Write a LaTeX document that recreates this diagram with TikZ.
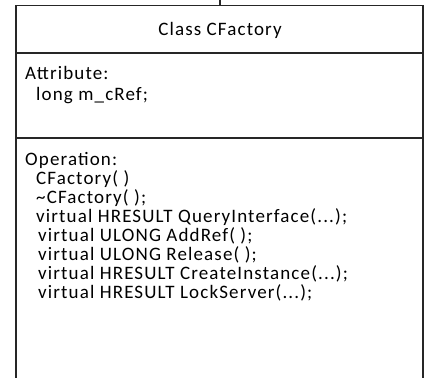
\documentclass[tikz,border=0pt]{standalone}
\usepackage{fontspec}
\setmainfont{Carlito}[LetterSpace=6]
\begin{document}
\begin{tikzpicture}[x=1pt,y=-1pt,
  frame/.style={draw=black!85,line width=1.6pt},
  txt/.style={inner sep=0pt,anchor=base west,font=\fontsize{19}{21}\selectfont},
  ttl/.style={inner sep=0pt,anchor=base,font=\fontsize{19}{21}\selectfont}]
\useasboundingbox (0,0) rectangle (427,377);
\coordinate (conntop) at (220,0);
\coordinate (tl) at (16,5.5);
\coordinate (tr) at (423,5.5);
\coordinate (bl) at (16,378);
\coordinate (br) at (423,378);
\coordinate (d1l) at (16,53);
\coordinate (d1r) at (423,53);
\coordinate (d2l) at (16,138);
\coordinate (d2r) at (423,138);
\coordinate (connbot) at (220,5.5);
\draw[frame] (bl) -- (tl) -- (tr) -- (br);
\draw[frame] (d1l) -- (d1r);
\draw[frame] (d2l) -- (d2r);
\draw[frame] (conntop) -- (connbot);
\node[ttl] (title) at (220,36) {Class CFactory};
\node[txt] (attr) at (25,80) {Attribute:};
\node[txt] (a1) at (36,100) {long m\_cRef;};
\node[txt] (op) at (25,165) {Operation:};
\node[txt] (o1) at (36,184) {CFactory( )};
\node[txt] (o2) at (36,203) {\string~CFactory( );};
\node[txt] (o3) at (36,222) {virtual HRESULT QueryInterface(...);};
\node[txt] (o4) at (38,241) {virtual ULONG AddRef( );};
\node[txt] (o5) at (38,260) {virtual ULONG Release( );};
\node[txt] (o6) at (38,279) {virtual HRESULT CreateInstance(...);};
\node[txt] (o7) at (38,298) {virtual HRESULT LockServer(...);};
\end{tikzpicture}
\end{document}
